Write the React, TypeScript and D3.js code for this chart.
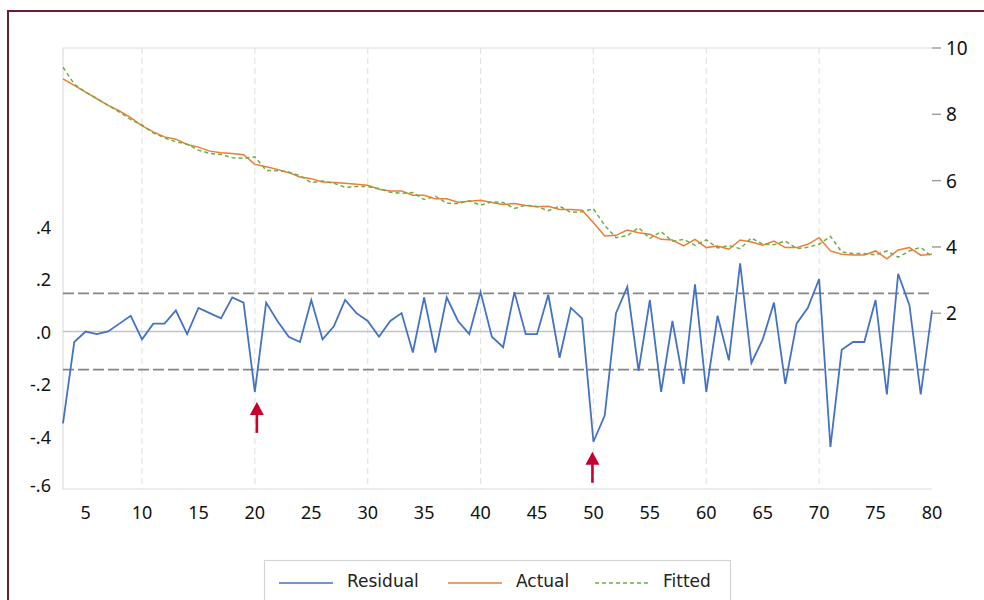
import React from "react";
import * as d3 from "d3";

// observation numbers 3..80
const obs = d3.range(3, 81);

const actual = [
  9.07, 8.87, 8.67, 8.47, 8.27, 8.1, 7.9, 7.65, 7.47, 7.32,
  7.25, 7.09, 7.01, 6.89, 6.84, 6.82, 6.78, 6.49, 6.42, 6.34,
  6.24, 6.11, 6.06, 5.96, 5.94, 5.92, 5.89, 5.86, 5.74, 5.69,
  5.69, 5.56, 5.56, 5.45, 5.45, 5.35, 5.38, 5.41, 5.34, 5.28,
  5.31, 5.25, 5.21, 5.23, 5.13, 5.13, 5.11, 4.73, 4.33, 4.35,
  4.51, 4.43, 4.38, 4.23, 4.21, 4.03, 4.23, 3.98, 4.03, 3.93,
  4.21, 4.15, 4.05, 4.18, 3.98, 3.98, 4.08, 4.28, 3.88, 3.78,
  3.76, 3.76, 3.88, 3.64, 3.91, 3.98, 3.75, 3.78,
];

const fitted = [
  9.42, 8.91, 8.67, 8.48, 8.27, 8.07, 7.84, 7.68, 7.44, 7.29,
  7.17, 7.1, 6.92, 6.82, 6.79, 6.69, 6.67, 6.72, 6.31, 6.3,
  6.26, 6.15, 5.94, 5.99, 5.92, 5.8, 5.82, 5.82, 5.76, 5.65,
  5.62, 5.64, 5.43, 5.53, 5.32, 5.31, 5.39, 5.26, 5.36, 5.34,
  5.16, 5.26, 5.22, 5.09, 5.23, 5.04, 5.06, 5.15, 4.65, 4.28,
  4.34, 4.58, 4.26, 4.46, 4.17, 4.23, 4.05, 4.21, 3.97, 4.04,
  3.95, 4.27, 4.08, 4.07, 4.18, 3.95, 3.99, 4.08, 4.32, 3.85,
  3.8, 3.8, 3.76, 3.88, 3.69, 3.88, 3.99, 3.7,
];

const residual = [
  -0.35, -0.04, 0.0, -0.01, 0.0, 0.03, 0.06, -0.03, 0.03, 0.03,
  0.08, -0.01, 0.09, 0.07, 0.05, 0.13, 0.11, -0.23, 0.11, 0.04,
  -0.02, -0.04, 0.12, -0.03, 0.02, 0.12, 0.07, 0.04, -0.02, 0.04,
  0.07, -0.08, 0.13, -0.08, 0.13, 0.04, -0.01, 0.15, -0.02, -0.06,
  0.15, -0.01, -0.01, 0.14, -0.1, 0.09, 0.05, -0.42, -0.32, 0.07,
  0.17, -0.15, 0.12, -0.23, 0.04, -0.2, 0.18, -0.23, 0.06, -0.11,
  0.26, -0.12, -0.03, 0.11, -0.2, 0.03, 0.09, 0.2, -0.44, -0.07,
  -0.04, -0.04, 0.12, -0.24, 0.22, 0.1, -0.24, 0.08,
];

const xTicks = [5, 10, 15, 20, 25, 30, 35, 40, 45, 50, 55, 60, 65, 70, 75, 80];
const xGrid = [10, 20, 30, 40, 50, 60, 70];
const leftTicks = [0.4, 0.2, 0.0, -0.2, -0.4, -0.6];
const rightTicks = [2, 4, 6, 8, 10];
const stdBand = 0.145;
const arrowObs = [20, 50];
const legendItems = ["Residual", "Actual", "Fitted"];

const W = 984;
const H = 600;
const left = 63;
const right = 932;
const top = 48;
const bottom = 489;

const fmtLeft = (v: number) => {
  const s = Math.abs(v).toFixed(1).replace(/^0/, "");
  return v < 0 ? "-" + s : s;
};

export default function App() {
  const x = d3.scaleLinear().domain([3, 80]).range([left, right]);
  const yL = d3.scaleLinear().domain([-0.6, 1.08]).range([bottom, top]);
  const yR = d3.scaleLinear().domain([-3.3, 10]).range([bottom, top]);

  const lineL = d3
    .line<number>()
    .x((_, i) => x(obs[i]))
    .y((d) => yL(d));
  const lineR = d3
    .line<number>()
    .x((_, i) => x(obs[i]))
    .y((d) => yR(d));

  const tickFont = "'Noto Sans', 'Open Sans', sans-serif";
  const legendFont = "'DejaVu Sans', Verdana, sans-serif";

  const legendX = [279, 448, 595];
  const legendColors = ["#4472c4", "#ed7d31", "#70ad47"];

  return (
    <svg
      width={W}
      height={H}
      style={{ position: "absolute", left: 0, top: 0, background: "#fff" }}
    >
      {/* outer frame */}
      <path d={`M8,${H} L8,11 L${W},11`} fill="none" stroke="#6e1c2e" strokeWidth={2} />

      {/* grid */}
      {xGrid.map((g) => (
        <line
          key={g}
          x1={x(g)}
          x2={x(g)}
          y1={top}
          y2={bottom}
          stroke="#e3e3e3"
          strokeWidth={1.2}
          strokeDasharray="6,4"
        />
      ))}
      <path
        d={`M${right},${top} L${left},${top} L${left},${bottom} L${right},${bottom}`}
        fill="none"
        stroke="#dcdcdc"
        strokeWidth={1.2}
      />

      {/* zero line and +/- std band */}
      <line x1={left} x2={right} y1={yL(0)} y2={yL(0)} stroke="#c4c4c4" strokeWidth={1.5} />
      {[stdBand, -stdBand].map((b) => (
        <line
          key={b}
          x1={left}
          x2={right}
          y1={yL(b)}
          y2={yL(b)}
          stroke="#858585"
          strokeWidth={1.7}
          strokeDasharray="11,4"
        />
      ))}

      {/* series */}
      <path d={lineR(actual) || ""} fill="none" stroke="#ed7d31" strokeWidth={1.5} />
      <path
        d={lineR(fitted) || ""}
        fill="none"
        stroke="#70ad47"
        strokeWidth={1.5}
        strokeDasharray="4,3"
      />
      <path d={lineL(residual) || ""} fill="none" stroke="#4472c4" strokeWidth={1.8} />

      {/* arrows */}
      {arrowObs.map((o, i) => {
        const i0 = obs.indexOf(o);
        const tipY = yL(residual[i0]) + 10;
        const ax = x(o) + (i === 0 ? 2 : -1);
        return (
          <g key={o} fill="#c8002d" stroke="#c8002d">
            <line x1={ax} x2={ax} y1={tipY + 10} y2={tipY + 31} strokeWidth={2.6} />
            <path d={`M${ax},${tipY} L${ax - 7},${tipY + 13} L${ax + 7},${tipY + 13} Z`} stroke="none" />
          </g>
        );
      })}

      {/* left axis labels */}
      {leftTicks.map((t) => (
        <text
          key={t}
          x={51}
          y={Math.min(yL(t), 485)}
          textAnchor="end"
          dominantBaseline="central"
          fontFamily={tickFont}
          fontSize={18}
          fill="#111"
        >
          {fmtLeft(t)}
        </text>
      ))}

      {/* right axis */}
      {rightTicks.map((t) => (
        <g key={t}>
          <line x1={right} x2={right + 9} y1={yR(t)} y2={yR(t)} stroke="#a0a0a0" strokeWidth={1.5} />
          <text
            x={946}
            y={yR(t)}
            dominantBaseline="central"
            fontFamily={tickFont}
            fontSize={19}
            fill="#111"
          >
            {t}
          </text>
        </g>
      ))}

      {/* bottom axis labels */}
      {xTicks.map((t) => (
        <text
          key={t}
          x={x(t)}
          y={512}
          textAnchor="middle"
          dominantBaseline="central"
          fontFamily={tickFont}
          fontSize={18}
          fill="#111"
        >
          {t}
        </text>
      ))}

      {/* legend */}
      <rect x={264.5} y={560.5} width={466} height={50} fill="#fff" stroke="#d4d4d4" strokeWidth={1.2} />
      {legendItems.map((name, i) => (
        <g key={name}>
          <line
            x1={legendX[i]}
            x2={legendX[i] + 54}
            y1={583}
            y2={583}
            stroke={legendColors[i]}
            strokeWidth={1.5}
            strokeDasharray={i === 2 ? "4,3" : undefined}
          />
          <text
            x={legendX[i] + 68}
            y={581}
            dominantBaseline="central"
            fontFamily={legendFont}
            fontSize={17}
            fill="#222"
          >
            {name}
          </text>
        </g>
      ))}
    </svg>
  );
}
